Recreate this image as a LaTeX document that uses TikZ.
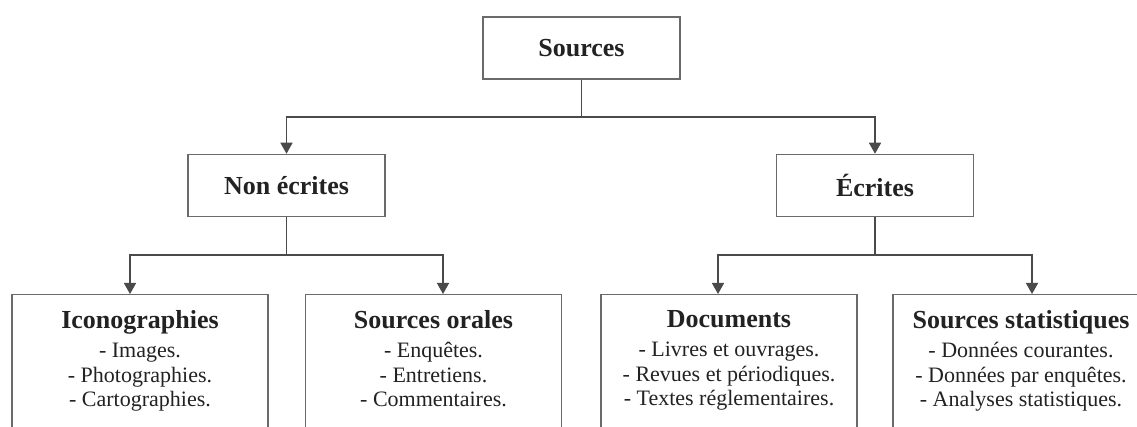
\documentclass[tikz,border=0pt]{standalone}
\usepackage{fontspec}
\setmainfont{Liberation Serif}
\usetikzlibrary{arrows.meta}
\definecolor{linec}{HTML}{4A4A4A}
\definecolor{boxc}{HTML}{6A6A6A}
\definecolor{txtc}{HTML}{222222}
\tikzset{
  topbox/.style={draw=boxc, line width=1.5pt, minimum width=197pt, minimum height=62pt, inner sep=0pt, text=txtc, font=\fontsize{26}{28}\selectfont\bfseries},
  leafbox/.style={draw=boxc, line width=1.5pt, minimum width=256pt, minimum height=160pt, anchor=north, inner sep=0pt},
  leaftext/.style={anchor=north, align=center, text=txtc, inner sep=0pt, font=\fontsize{22}{24.5}\selectfont},
  conn/.style={draw=linec, line width=1.5pt},
  arr/.style={conn, -{Triangle[width=12pt,length=11pt]}}
}
\begin{document}
\begin{tikzpicture}[x=1pt,y=-1pt]
\clip (0,0) rectangle (1137,427);
\useasboundingbox (0,0) rectangle (1137,427);
\fill[white] (0,0) rectangle (1137,427);

% top level
\node[topbox] (src) at (581.5,48) {Sources};
\node[topbox] (ne) at (286.5,185.5) {Non écrites};
\node[topbox] (ec) at (875,185.5) {Écrites};

% leaves
\node[leafbox] (ico) at (140,294) {};
\node[leafbox] (ora) at (433.5,294) {};
\node[leafbox] (doc) at (729,294) {};
\node[leafbox] (sta) at (1021,294) {};

\node[leaftext] (icot) at (140,310) {{\fontsize{26}{28}\selectfont\bfseries Iconographies}\\[5pt]- Images.\\- Photographies.\\- Cartographies.};
\node[leaftext] (orat) at (433.5,310) {{\fontsize{26}{28}\selectfont\bfseries Sources orales}\\[5pt]- Enquêtes.\\- Entretiens.\\- Commentaires.};
\node[leaftext] (doct) at (729,310) {{\fontsize{26}{28}\selectfont\bfseries Documents}\\[5pt]- Livres et ouvrages.\\- Revues et périodiques.\\- Textes réglementaires.};
\node[leaftext] (stat) at (1021,310) {{\fontsize{26}{28}\selectfont\bfseries Sources statistiques}\\[5pt]- Données courantes.\\- Données par enquêtes.\\- Analyses statistiques.};

% junctions and arrow targets
\coordinate (j0) at (581.5,117);
\coordinate (j1) at (286.5,255);
\coordinate (j2) at (875,255);
\coordinate (t1) at (130,294);
\coordinate (t2) at (443,294);
\coordinate (t3) at (718,294);
\coordinate (t4) at (1032,294);

% connectors
\draw[conn] (src.south) -- (j0);
\draw[arr] (j0) -| (ne.north);
\draw[arr] (j0) -| (ec.north);
\draw[conn] (ne.south) -- (j1);
\draw[arr] (j1) -| (t1);
\draw[arr] (j1) -| (t2);
\draw[conn] (ec.south) -- (j2);
\draw[arr] (j2) -| (t3);
\draw[arr] (j2) -| (t4);
\end{tikzpicture}
\end{document}
